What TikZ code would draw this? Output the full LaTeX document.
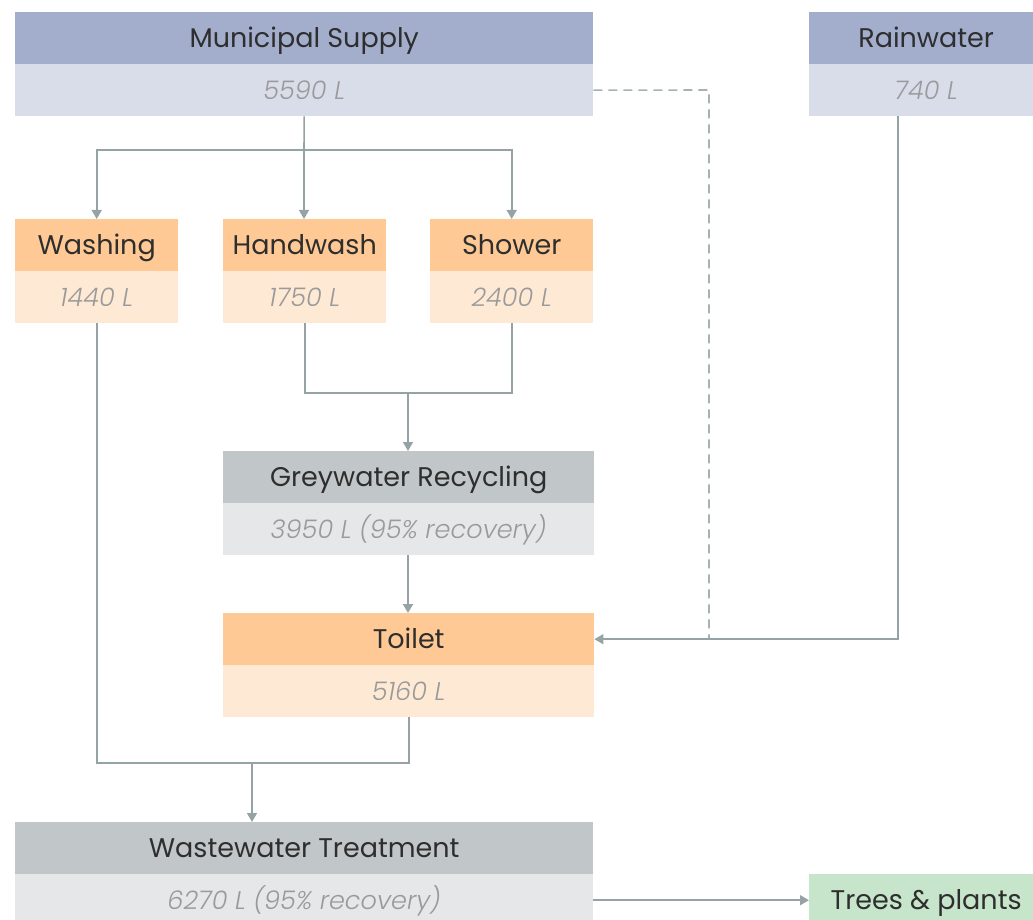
\documentclass[tikz,border=0pt]{standalone}
\usepackage{fontspec}
\setmainfont{Poppins}
\newfontfamily\valfont{Poppins Light}[ItalicFont={Poppins Light Italic}]
\usetikzlibrary{arrows.meta,calc}

\definecolor{blueH}{HTML}{A3AECD}
\definecolor{blueV}{HTML}{D9DDEA}
\definecolor{orangeH}{HTML}{FFC995}
\definecolor{orangeV}{HTML}{FEE9D4}
\definecolor{greyH}{HTML}{C1C7C8}
\definecolor{greyV}{HTML}{E5E7E8}
\definecolor{greenH}{HTML}{C6E5CB}
\definecolor{linecol}{HTML}{95A3A5}
\definecolor{textdark}{HTML}{2E2E2E}
\definecolor{textgray}{HTML}{9A9A9A}

\tikzset{
  hdr/.style={draw=none, inner sep=0pt, anchor=north west, minimum height=52pt,
    text height=23pt, text depth=5pt,
    font=\fontsize{27}{31}\selectfont, text=textdark},
  val/.style={draw=none, inner sep=0pt, anchor=north west, minimum height=52pt,
    text height=23pt, text depth=5pt,
    font=\fontsize{25.6}{30}\selectfont\valfont\itshape, text=textgray},
  flow/.style={draw=linecol, line width=1.6pt, line join=miter},
  arr/.style={flow, -{Triangle[length=9pt,width=10pt]}},
  dashflow/.style={draw=linecol!85, line width=1.6pt, dash pattern=on 9pt off 6pt}
}

\begin{document}
\begin{tikzpicture}[x=1pt,y=-1pt]
\useasboundingbox (0,0) rectangle (1033,920);

% sources
\node[hdr, fill=blueH, minimum width=578pt] (ms) at (15,12) {Municipal Supply};
\node[val, fill=blueV, minimum width=578pt] (msv) at (15,64) {5590 L};
\node[hdr, fill=blueH, minimum width=234pt] (rw) at (809,12) {Rainwater};
\node[val, fill=blueV, minimum width=234pt] (rwv) at (809,64) {740 L};

% end uses
\node[hdr, fill=orangeH, minimum width=163pt] (wa) at (15,219) {Washing};
\node[val, fill=orangeV, minimum width=163pt] (wav) at (15,271) {1440 L};
\node[hdr, fill=orangeH, minimum width=163pt] (hw) at (223,219) {Handwash};
\node[val, fill=orangeV, minimum width=163pt] (hwv) at (223,271) {1750 L};
\node[hdr, fill=orangeH, minimum width=163pt] (sh) at (430,219) {Shower};
\node[val, fill=orangeV, minimum width=163pt] (shv) at (430,271) {2400 L};

% recycling
\node[hdr, fill=greyH, minimum width=371pt] (gr) at (223,451) {Greywater Recycling};
\node[val, fill=greyV, minimum width=371pt] (grv) at (223,503) {3950 L (95\% recovery)};

\node[hdr, fill=orangeH, minimum width=371pt] (to) at (223,613) {Toilet};
\node[val, fill=orangeV, minimum width=371pt] (tov) at (223,665) {5160 L};

\node[hdr, fill=greyH, minimum width=578pt] (ww) at (15,822) {Wastewater Treatment};
\node[val, fill=greyV, minimum width=578pt] (wwv) at (15,874) {6270 L (95\% recovery)};

\node[hdr, fill=greenH, minimum width=234pt] (tp) at (809,874) {Trees \& plants};

% junction points
\coordinate (jsup) at (304,150);
\coordinate (jgrey) at (408,393);
\coordinate (jwaste) at (252,763);
\coordinate (dbend) at (709,90);
\coordinate (dmerge) at (709,639);
\coordinate (rdrop) at (898,116);

% municipal supply to the three end uses
\draw[flow] (msv.south) -- (jsup);
\draw[arr] (jsup) -| (wa.north);
\draw[arr] (jsup) -- (jsup |- hw.north);
\draw[arr] (jsup) -| (sh.north);

% handwash and shower into greywater recycling
\draw[flow] (hwv.south) |- (jgrey);
\draw[flow] (shv.south) |- (jgrey);
\draw[arr] (jgrey) -- (jgrey |- gr.north);
\draw[arr] (jgrey |- grv.south) -- (jgrey |- to.north);

% municipal backup and rainwater to toilet
\draw[dashflow] (msv.east) -- (dbend) -- (dmerge);
\draw[arr] (rdrop) |- (to.east);

% to wastewater treatment
\draw[flow] (wav.south) |- (jwaste);
\draw[flow] (tov.south) |- (jwaste);
\draw[arr] (jwaste) -- (jwaste |- ww.north);
\draw[arr] (wwv.east) -- (tp.west);
\end{tikzpicture}
\end{document}
